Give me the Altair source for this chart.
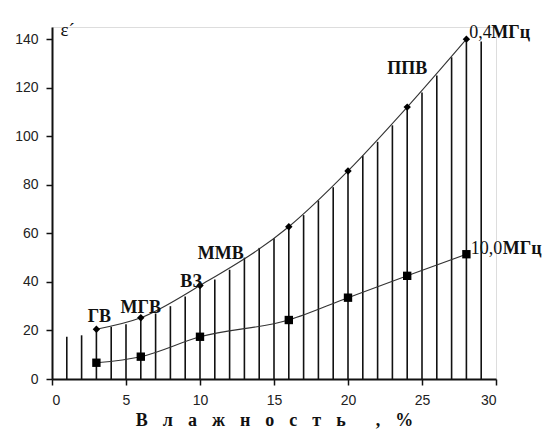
import altair as alt
import pandas as pd

# Hatching lines (x position, top value)
hatch_x = list(range(1, 30))
hatch_top = [17.4, 18, 20.5, 21.5, 22.6, 25, 27, 30, 34, 38.5, 41, 45, 50, 54, 58,
             62.5, 67.5, 73.5, 79, 85.5, 92, 97.7, 104.5, 111.5, 118, 125, 132.5, 140, 139]

# Series
x_pts = [3, 6, 10, 16, 20, 24, 28]
y_04 = [20.5, 25.2, 38.5, 62.7, 85.7, 112, 140]
y_10 = [6.7, 9.2, 17.4, 24.3, 33.5, 42.5, 51.4]

# Annotations
ann_text = ["ГВ", "МГВ", "ВЗ", "ММВ", "ППВ"]
ann_x = [3.2, 6.0, 9.4, 11.4, 24.0]
ann_y = [25.5, 29.4, 40.0, 51.6, 127.6]

hatch = pd.DataFrame({"x": hatch_x, "top": hatch_top, "zero": [0] * len(hatch_x)})
s04 = pd.DataFrame({"x": x_pts, "y": y_04})
s10 = pd.DataFrame({"x": x_pts, "y": y_10})
ann = pd.DataFrame({"t": ann_text, "x": ann_x, "y": ann_y})

xs = alt.Scale(domain=[0, 30], nice=False)
ys = alt.Scale(domain=[0, 145], nice=False)

sp = "\u2002\u2004"
xtitle = sp.join(["В", "л", "а", "ж", "н", "о", "с", "т", "ь"]) + sp + sp + "," + sp + "%"

xaxis = alt.Axis(values=[0, 5, 10, 15, 20, 25, 30], title=xtitle,
                 titleFont="Liberation Serif", titleFontSize=18, titleFontWeight="bold",
                 titleColor="#111", titlePadding=4,
                 labelFont="Liberation Sans", labelFontSize=14, labelColor="#222",
                 labelPadding=8, tickSize=6, tickColor="#111", tickWidth=1.5,
                 domainColor="#111", domainWidth=2, grid=False)
yaxis = alt.Axis(values=[0, 20, 40, 60, 80, 100, 120, 140], title="ε´",
                 titleAngle=0, titleAlign="left", titleBaseline="middle",
                 titleX=8, titleY=2, titleFont="Liberation Serif", titleFontSize=19,
                 titleFontWeight="normal", titleColor="#111",
                 labelFont="Liberation Sans", labelFontSize=14, labelColor="#222",
                 labelPadding=8, tickSize=6, tickColor="#111", tickWidth=1.5,
                 domainColor="#111", domainWidth=2, grid=False)

rules = alt.Chart(hatch).mark_rule(color="#111", strokeWidth=1.6).encode(
    x=alt.X("x:Q", scale=xs, axis=xaxis),
    y=alt.Y("zero:Q", scale=ys, axis=yaxis),
    y2="top:Q",
)

line04 = alt.Chart(s04).mark_line(color="#333", strokeWidth=1.1, interpolate="monotone").encode(
    x=alt.X("x:Q", scale=xs), y=alt.Y("y:Q", scale=ys))
pts04 = alt.Chart(s04).mark_point(shape="diamond", filled=True, color="#000", size=55, opacity=1).encode(
    x=alt.X("x:Q", scale=xs), y=alt.Y("y:Q", scale=ys))
line10 = alt.Chart(s10).mark_line(color="#333", strokeWidth=1.1, interpolate="monotone").encode(
    x=alt.X("x:Q", scale=xs), y=alt.Y("y:Q", scale=ys))
pts10 = alt.Chart(s10).mark_point(shape="square", filled=True, color="#000", size=70, opacity=1).encode(
    x=alt.X("x:Q", scale=xs), y=alt.Y("y:Q", scale=ys))

labels = alt.Chart(ann).mark_text(font="Liberation Serif", fontSize=18, fontWeight="bold",
                                  color="#111", align="center", baseline="middle").encode(
    x=alt.X("x:Q", scale=xs), y=alt.Y("y:Q", scale=ys), text="t:N")

freq_num = ["0,4", "10,0"]
freq_x = [28.2, 28.3]
freq_y = [142.6, 53.5]
fr = pd.DataFrame({"n": freq_num, "x": freq_x, "y": freq_y})

fnum = alt.Chart(fr).mark_text(font="Liberation Serif", fontSize=18, color="#111",
                               align="left", baseline="middle").encode(
    x=alt.X("x:Q", scale=xs), y=alt.Y("y:Q", scale=ys), text="n:N")
funit04 = alt.Chart(fr.iloc[[0]]).mark_text(font="Liberation Serif", fontSize=18, fontWeight="bold",
                                            color="#111", align="left", baseline="middle", dx=22).encode(
    x=alt.X("x:Q", scale=xs), y=alt.Y("y:Q", scale=ys), text=alt.value("МГц"))
funit10 = alt.Chart(fr.iloc[[1]]).mark_text(font="Liberation Serif", fontSize=18, fontWeight="bold",
                                            color="#111", align="left", baseline="middle", dx=32).encode(
    x=alt.X("x:Q", scale=xs), y=alt.Y("y:Q", scale=ys), text=alt.value("МГц"))

chart = alt.layer(rules, line04, line10, pts04, pts10, labels, fnum, funit04, funit10).properties(
    width=444, height=352,
    autosize=alt.AutoSizeParams(type="none"),
    padding={"left": 44, "top": 19, "right": 46, "bottom": 50},
).configure_view(stroke=None).configure(background="white")

chart.save("out.html", embed_options={"renderer": "svg", "actions": False})
